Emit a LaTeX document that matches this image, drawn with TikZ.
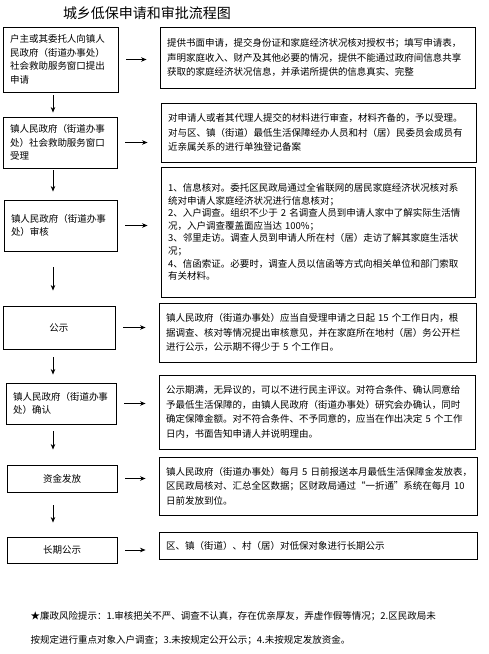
\documentclass[tikz,border=0pt]{standalone}
\usepackage{fontspec}
\setmainfont{Noto Sans CJK SC}
\usepackage{tikz}
\usetikzlibrary{arrows.meta,positioning}

\begin{document}
\begin{tikzpicture}[
  x=1pt, y=-1pt,
  >={Stealth[length=5.5pt,width=4.5pt]},
  box/.style={draw, line width=0.9pt, inner xsep=7pt, inner ysep=2pt,
    font={\fontsize{9.5}{13.5}\selectfont}},
  lbox/.style={box, align=left},
  cbox/.style={box, align=center},
  rbox/.style={box, align=left, font={\fontsize{9.5}{14.5}\selectfont}},
  flow/.style={->, line width=0.8pt},
  title/.style={font={\fontsize{14}{16}\selectfont}}
]
\useasboundingbox (0,0) rectangle (488,654);

\node[title] (head) at (147,13) {城乡低保申请和审批流程图};

% Left column: steps of the procedure
\node[lbox, text width=101pt, minimum height=65pt] (l1) at (60.5,59.5)
  {户主或其委托人向镇人\\民政府（街道办事处）\\社会救助服务窗口提出\\申请};
\node[lbox, text width=100pt, minimum height=51pt] (l2) at (60,142.5)
  {镇人民政府（街道办事\\处）社会救助服务窗口\\受理};
\node[lbox, text width=99pt, minimum height=51pt] (l3) at (60.5,225.5)
  {镇人民政府（街道办事\\处）审核};
\node[cbox, text width=98pt, minimum height=43pt] (l4) at (59,327.5) {公示};
\node[lbox, text width=96pt, minimum height=41pt] (l5) at (61,403.5)
  {镇人民政府（街道办事\\处）确认};
\node[cbox, text width=96pt, minimum height=27pt] (l6) at (62,478.5) {资金发放};
\node[cbox, text width=96pt, minimum height=26pt] (l7) at (62,550) {长期公示};

% Right column: what each step requires
\node[rbox, text width=301pt, minimum height=61pt] (r1) at (317.5,57.5)
  {提供书面申请，提交身份证和家庭经济状况核对授权书；填写申请表，\\
   声明家庭收入、财产及其他必要的情况，提供不能通过政府间信息共享\\
   获取的家庭经济状况信息，并承诺所提供的信息真实、完整};
\node[rbox, text width=301pt, minimum height=59pt] (r2) at (318.5,132.5)
  {对申请人或者其代理人提交的材料进行审查，材料齐备的，予以受理。\\
   对与区、镇（街道）最低生活保障经办人员和村（居）民委员会成员有\\
   近亲属关系的进行单独登记备案};
\node[rbox, text width=300pt, minimum height=130pt,
      font={\fontsize{9.5}{12.6}\selectfont}] (r3) at (318,232)
  {1、信息核对。委托区民政局通过全省联网的居民家庭经济状况核对系\\
   统对申请人家庭经济状况进行信息核对；\\
   2、入户调查。组织不少于~2~名调查人员到申请人家中了解实际生活情\\
   况，入户调查覆盖面应当达~100\%；\\
   3、邻里走访。调查人员到申请人所在村（居）走访了解其家庭生活状\\
   况；\\
   4、信函索证。必要时，调查人员以信函等方式向相关单位和部门索取\\
   有关材料。};
\node[rbox, text width=303pt, minimum height=59pt] (r4) at (317.5,332.5)
  {镇人民政府（街道办事处）应当自受理申请之日起~15~个工作日内，根\\
   据调查、核对等情况提出审核意见，并在家庭所在地村（居）务公开栏\\
   进行公示，公示期不得少于~5~个工作日。};
\node[rbox, text width=302pt, minimum height=74pt] (r5) at (317,412)
  {公示期满，无异议的，可以不进行民主评议。对符合条件、确认同意给\\
   予最低生活保障的，由镇人民政府（街道办事处）研究会办确认，同时\\
   确定保障金额。对不符合条件、不予同意的，应当在作出决定~5~个工作\\
   日内，书面告知申请人并说明理由。};
\node[rbox, text width=304pt, minimum height=58pt] (r6) at (318,486)
  {镇人民政府（街道办事处）每月~5~日前报送本月最低生活保障金发放表，\\
   区民政局核对、汇总全区数据；区财政局通过“一折通”系统在每月~10\\
   日前发放到位。};
\node[rbox, text width=304pt, minimum height=27pt] (r7) at (318,545.5)
  {区、镇（街道）、村（居）对低保对象进行长期公示};

% Arrows down the left column
\foreach \a/\b/\p/\q in {l1/l2/3/4, l2/l3/2/8, l3/l4/16/15,
                         l4/l5/8/8, l5/l6/7/15, l6/l7/13/14}{
  \draw[flow, shorten <=\p pt, shorten >=\q pt] (\a.south -| 53,0) -- (\b.north -| 53,0);
}
% Arrows from each step to its details
\foreach \i in {1,...,7}{
  \draw[flow, shorten <=8pt, shorten >=13pt] (l\i.east) -- (l\i.east -| r\i.west);
}

% Risk note at the bottom
\node[anchor=west, font={\fontsize{9.5}{12}\selectfont}] (note1) at (27,616)
  {★廉政风险提示：1.审核把关不严、调查不认真，存在优亲厚友，弄虚作假等情况；2.区民政局未};
\node[anchor=west, font={\fontsize{9.5}{12}\selectfont}] (note2) at (27,640)
  {按规定进行重点对象入户调查；3.未按规定公开公示；4.未按规定发放资金。};
\end{tikzpicture}
\end{document}
